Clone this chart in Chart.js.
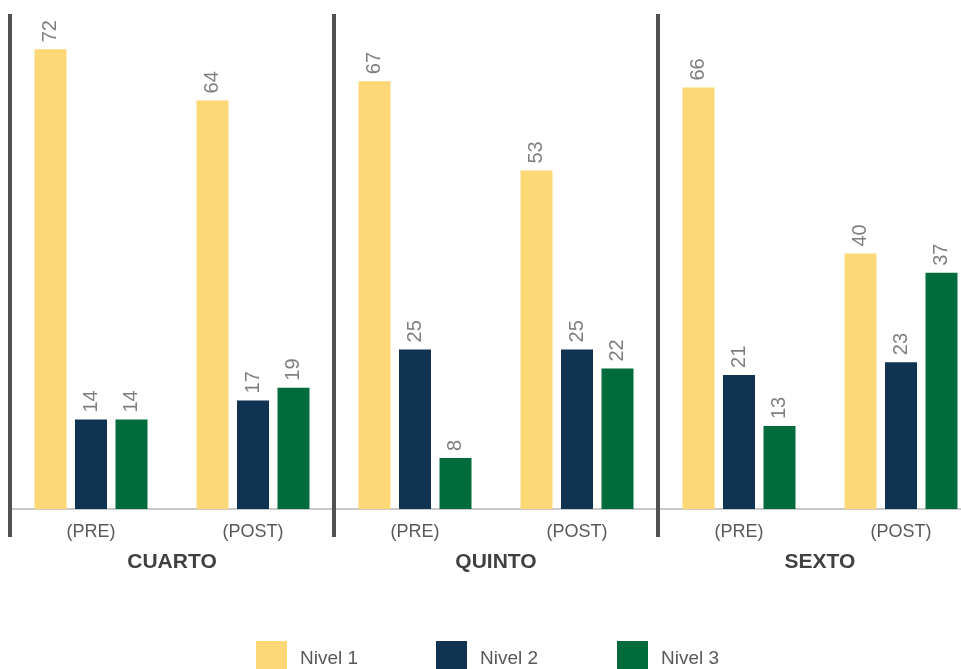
<!DOCTYPE html>
<html>
<head>
<meta charset="utf-8">
<script src="https://cdn.jsdelivr.net/npm/chart.js@4.4.0/dist/chart.umd.min.js"></script>
<style>
  html, body { margin: 0; padding: 0; overflow: hidden; background: #fff; }
  #wrap { position: relative; width: 961px; height: 669px; overflow: hidden; }
  #legend { position: absolute; top: 641px; left: 0; width: 961px; height: 28px; }
  .item { position: absolute; top: 0; height: 28px; display: flex; align-items: center;
          font-family: "Liberation Sans", Arial, sans-serif; font-size: 19px; color: #595959; }
  .item span { padding-top: 6px; }
  .box { width: 31px; height: 28px; margin-right: 13px; }
</style>
</head>
<body>
<div id="wrap">
  <canvas id="chart" width="982" height="669"></canvas>
  <div id="legend"></div>
</div>
<script>
const categories = ["(PRE)", "(POST)", "(PRE)", "(POST)", "(PRE)", "(POST)"];
const groups = ["CUARTO", "QUINTO", "SEXTO"];
const seriesNames = ["Nivel 1", "Nivel 2", "Nivel 3"];
const nivel1 = [72, 64, 67, 53, 66, 40];
const nivel2 = [14, 17, 25, 25, 21, 23];
const nivel3 = [14, 19, 8, 22, 13, 37];
const colors = ["#FED776", "#0F3350", "#006C3B"];

const legendLeft = [256, 436, 617];

// data labels, rotated like in the original
const valueLabels = {
  id: "valueLabels",
  afterDatasetsDraw(chart) {
    const ctx = chart.ctx;
    ctx.save();
    ctx.font = "20px 'Liberation Sans', Arial, sans-serif";
    ctx.fillStyle = "#7f7f7f";
    ctx.textAlign = "left";
    ctx.textBaseline = "middle";
    chart.data.datasets.forEach((ds, i) => {
      chart.getDatasetMeta(i).data.forEach((bar, j) => {
        ctx.save();
        ctx.translate(bar.x, bar.y - 7);
        ctx.rotate(-Math.PI / 2);
        ctx.fillText(String(ds.data[j]), 0, 0);
        ctx.restore();
      });
    });
    ctx.restore();
  }
};

// group labels + separators between grades
const groupAxis = {
  id: "groupAxis",
  afterDraw(chart) {
    const ctx = chart.ctx;
    const x = chart.scales.x;
    const area = chart.chartArea;
    const step = x.getPixelForValue(1) - x.getPixelForValue(0);
    ctx.save();
    ctx.strokeStyle = "#505050";
    ctx.lineWidth = 4;
    ctx.font = "bold 21px 'Liberation Sans', Arial, sans-serif";
    ctx.fillStyle = "#404040";
    ctx.textAlign = "center";
    ctx.textBaseline = "middle";
    groups.forEach((g, k) => {
      const first = x.getPixelForValue(k * 2);
      const left = first - step / 2;
      ctx.beginPath();
      ctx.moveTo(left, area.top + 3);
      ctx.lineTo(left, area.bottom + 28);
      ctx.stroke();
      const mid = (first + x.getPixelForValue(k * 2 + 1)) / 2;
      ctx.fillText(g, mid, area.bottom + 53);
    });
    ctx.restore();
  }
};

new Chart(document.getElementById("chart"), {
  type: "bar",
  data: {
    labels: categories,
    datasets: [nivel1, nivel2, nivel3].map((d, i) => ({
      label: seriesNames[i],
      data: d,
      backgroundColor: colors[i],
      categoryPercentage: 0.75,
      barPercentage: 0.79
    }))
  },
  options: {
    responsive: false,
    animation: false,
    devicePixelRatio: 1,
    layout: { padding: { left: 10, right: 0, top: 11, bottom: 0 } },
    plugins: { legend: { display: false }, tooltip: { enabled: false } },
    scales: {
      y: { display: false, min: 0, max: 78 },
      x: {
        grid: { display: false, drawTicks: false },
        border: { color: "#c9c9c9", width: 2 },
        ticks: {
          color: "#595959",
          padding: 12,
          font: { family: "'Liberation Sans', Arial, sans-serif", size: 18 }
        },
        afterFit(scale) { scale.height = 160; }
      }
    }
  },
  plugins: [valueLabels, groupAxis]
});

const legend = document.getElementById("legend");
seriesNames.forEach((name, i) => {
  const item = document.createElement("div");
  item.className = "item";
  item.style.left = legendLeft[i] + "px";
  item.innerHTML = '<div class="box" style="background:' + colors[i] + '"></div><span>' + name + '</span>';
  legend.appendChild(item);
});
</script>
</body>
</html>
